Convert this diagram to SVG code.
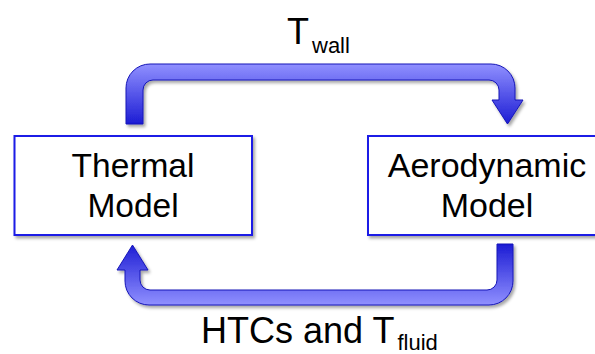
<svg xmlns="http://www.w3.org/2000/svg" width="595" height="354" viewBox="0 0 595 354">
<style>
.box{fill:#fff;stroke:#1a1ae6;stroke-width:2;filter:url(#sh)}
.lbl{font-family:"Liberation Sans",Arial,sans-serif;fill:#000}
.arr{stroke:#1616b8;stroke-width:1;filter:url(#sh)}
</style>
<defs>
<filter id="sh" x="-10%" y="-10%" width="130%" height="140%">
<feDropShadow dx="2" dy="2.5" stdDeviation="1.5" flood-color="#000" flood-opacity="0.35"/>
</filter>
<linearGradient id="gTop" gradientUnits="userSpaceOnUse" x1="0" y1="64" x2="0" y2="124">
<stop offset="0" stop-color="#9090ff"/>
<stop offset="1" stop-color="#1c1cd4"/>
</linearGradient>
<linearGradient id="gBot" gradientUnits="userSpaceOnUse" x1="0" y1="305" x2="0" y2="244">
<stop offset="0" stop-color="#9090ff"/>
<stop offset="1" stop-color="#1c1cd4"/>
</linearGradient>
</defs>
<g id="connectors">
<path class="arr" fill="url(#gTop)" d="M126,124 L126,88 A24,24 0 0 1 150,64 L491,64 A24,24 0 0 1 515,88 L515,100 L523,100 L507.5,124 L492,100 L499,100 L499,90 A10,10 0 0 0 489,80 L153,80 A10,10 0 0 0 143,90 L143,124 Z"/>
<path class="arr" fill="url(#gBot)" d="M513,244 L513,281 A24,24 0 0 1 489,305 L149,305 A24,24 0 0 1 125,281 L125,270 L117,270 L132.5,245 L148,270 L140,270 L140,280 A10,10 0 0 0 150,290 L487,290 A10,10 0 0 0 497,280 L497,244 Z"/>
<text class="lbl" x="287" y="44" font-size="36">T<tspan font-size="22" dx="3" dy="9">wall</tspan></text>
<text class="lbl" x="201" y="343" font-size="36">HTCs and T<tspan font-size="22" dx="3" dy="7">fluid</tspan></text>
</g>
<g id="thermal">
<rect class="box" x="14.5" y="136" width="237.5" height="99"/>
<text class="lbl" x="133" y="177" font-size="33.5" text-anchor="middle">Thermal</text>
<text class="lbl" x="133" y="217" font-size="33.5" text-anchor="middle">Model</text>
</g>
<g id="aero">
<rect class="box" x="368" y="136" width="238" height="99"/>
<text class="lbl" x="487" y="177" font-size="34" text-anchor="middle">Aerodynamic</text>
<text class="lbl" x="487" y="217" font-size="34" text-anchor="middle">Model</text>
</g>
</svg>
